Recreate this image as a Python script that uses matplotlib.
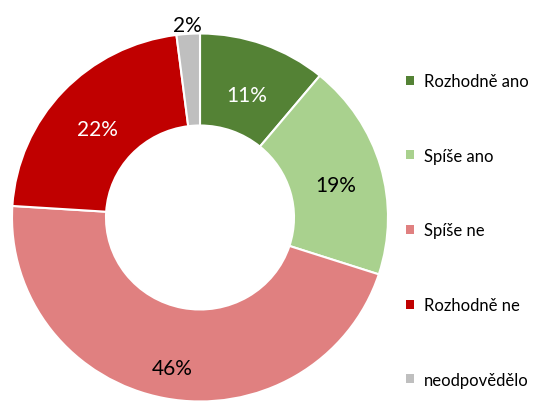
import matplotlib.pyplot as plt
from matplotlib.patches import Patch
import numpy as np

labels = ['Rozhodně ano', 'Spíše ano', 'Spíše ne', 'Rozhodně ne', 'neodpovědělo']
values = [11, 19, 46, 22, 2]
colors = ['#548235', '#A9D18E', '#E08080', '#C00000', '#BFBFBF']
text_colors = ['white', 'black', 'black', 'white', 'black']
label_dist = [0.74, 0.75, 0.8, 0.75, 1.08]

plt.rcParams['font.family'] = ['Lato', 'DejaVu Sans']

W, H = 539, 406
fig = plt.figure(figsize=(W / 100, H / 100), dpi=100)
# pie centre and radius in pixels
cx, cy, rx, ry = 200, 218.5, 188, 184
ax = fig.add_axes([(cx - rx) / W, (H - cy - ry) / H, 2 * rx / W, 2 * ry / H])

wedges, _ = ax.pie(values, colors=colors, startangle=90, counterclock=False,
                   radius=1, wedgeprops=dict(width=0.5, edgecolor='white', linewidth=1.5),
                   frame=True)
ax.set_xlim(-1, 1)
ax.set_ylim(-1, 1)
ax.set_aspect('auto')
ax.axis('off')

for w, v, tc, d in zip(wedges, values, text_colors, label_dist):
    ang = np.deg2rad((w.theta1 + w.theta2) / 2)
    ax.text(d * np.cos(ang), d * np.sin(ang) - 0.03, '%d%%' % v, ha='center', va='center',
            fontsize=15, color=tc)

handles = [Patch(facecolor=c, edgecolor='none') for c in colors]
fig.legend(handles, labels, loc='upper left', bbox_to_anchor=(406 / W, 1 - 74 / H),
           frameon=False, fontsize=12, handlelength=0.45, handleheight=0.45,
           handletextpad=0.6, labelspacing=3.52, borderaxespad=0, borderpad=0)

fig.savefig('out.png', dpi=100)
